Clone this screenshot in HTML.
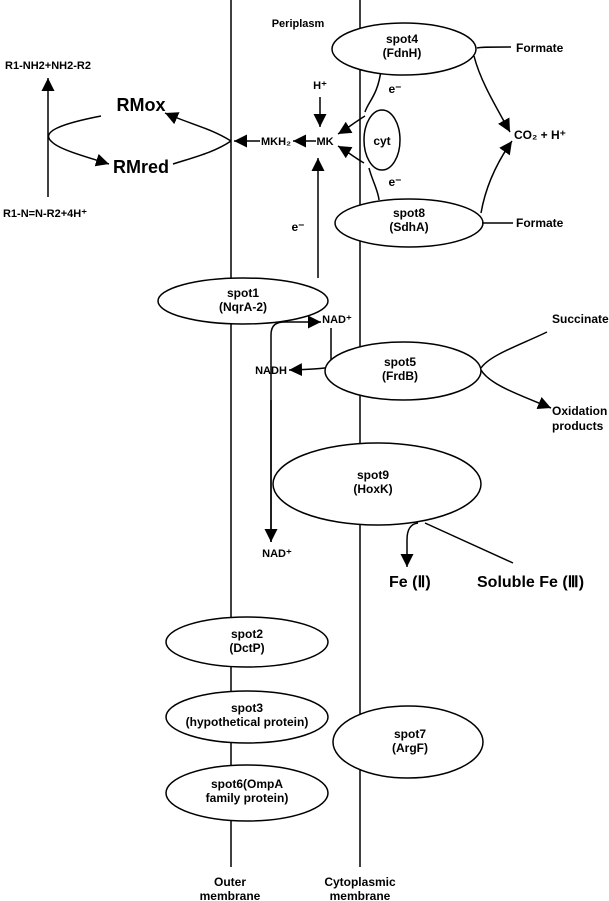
<!DOCTYPE html>
<html><head><meta charset="utf-8"><style>
body{margin:0;background:#fff;}
svg{display:block;}
text{font-family:"Liberation Sans",Arial,sans-serif;font-weight:bold;fill:#000;}
.s{font-size:11px;}
.m{font-size:12px;}
</style></head><body>
<svg width="609" height="901" viewBox="0 0 609 901" xmlns="http://www.w3.org/2000/svg">
<defs>
<marker id="a" viewBox="0 0 10 10" refX="10" refY="5" markerWidth="10" markerHeight="10" markerUnits="userSpaceOnUse" orient="auto"><path d="M0,0L10,5L0,10z" fill="#000"/></marker>
<marker id="b" viewBox="0 0 10 10" refX="10" refY="5" markerWidth="13" markerHeight="13" markerUnits="userSpaceOnUse" orient="auto"><path d="M0,0L10,5L0,10z" fill="#000"/></marker>
</defs>
<g stroke="#000" stroke-width="1.5" fill="none">
<line x1="231" y1="0" x2="231" y2="867"/>
<line x1="360" y1="0" x2="360" y2="867"/>
<!-- left -->
<line x1="48" y1="197" x2="48" y2="78" marker-end="url(#b)"/>
<path d="M101,116 C60,124 40,132 52,142 C60,150 90,158 109,164" marker-end="url(#b)"/>
<path d="M231,141 C210,128 190,124 165,113" marker-end="url(#b)"/>
<path d="M231,141 C215,152 195,157 173,164"/>
<line x1="260" y1="141" x2="234" y2="141" marker-end="url(#b)"/>
<line x1="316" y1="141" x2="293" y2="141" marker-end="url(#b)"/>
<line x1="320" y1="97" x2="320" y2="127" marker-end="url(#b)"/>
<line x1="318" y1="278" x2="318" y2="158" marker-end="url(#b)"/>
<!-- cyt -->
<ellipse cx="382" cy="140" rx="18" ry="30" fill="#fff"/>
<path d="M381,70 C378,95 368,102 365,112"/>
<path d="M369,168 C372,180 378,190 379,200"/>
<path d="M365,116 C355,122 348,128 338,134" marker-end="url(#b)"/>
<path d="M364,163 C355,158 348,152 338,146" marker-end="url(#b)"/>
<!-- spot4 / spot8 -->
<ellipse cx="404" cy="49" rx="72" ry="26" fill="#fff"/>
<ellipse cx="409" cy="223" rx="74" ry="24" fill="#fff"/>
<path d="M477,48 C480,47 490,47 511,47"/>
<path d="M482,223 C488,223 495,223 513,223"/>
<path d="M474,56 C480,80 495,105 510,132" marker-end="url(#b)"/>
<path d="M481,213 C485,190 495,165 512,141" marker-end="url(#b)"/>
<!-- spot1 area -->
<ellipse cx="243" cy="301" rx="85" ry="23" fill="#fff"/>
<path d="M271,542 L271,335 C271,325 276,322 285,322 L321,322" marker-end="url(#b)"/>
<line x1="271" y1="400" x2="271" y2="542" marker-end="url(#b)"/>
<path d="M331,328 L331,364 C331,368 325,369 289,370" marker-end="url(#b)"/>
<!-- spot5 -->
<ellipse cx="403" cy="371" rx="78" ry="29" fill="#fff"/>
<path d="M547,332 C520,345 490,355 481,368"/>
<path d="M481,370 C490,385 520,395 551,408" marker-end="url(#b)"/>
<!-- spot9 -->
<ellipse cx="377" cy="484" rx="104" ry="41" fill="#fff"/>
<path d="M418,523 C410,524 407,530 407,540 L407,567" marker-end="url(#b)"/>
<line x1="425" y1="523" x2="513" y2="563"/>
<!-- bottom -->
<ellipse cx="247" cy="642" rx="81" ry="25" fill="#fff"/>
<ellipse cx="247" cy="717" rx="81" ry="26" fill="#fff"/>
<ellipse cx="247" cy="793" rx="81" ry="28" fill="#fff"/>
<ellipse cx="408" cy="742" rx="75" ry="36" fill="#fff"/>
</g>
<g text-anchor="middle" class="m">
<text x="48" y="69" class="s">R1-NH2+NH2-R2</text>
<text x="45" y="217" class="s">R1-N=N-R2+4H⁺</text>
<text x="141" y="111" style="font-size:18px">RMox</text>
<text x="141" y="173" style="font-size:18px">RMred</text>
<text x="298" y="27" class="s">Periplasm</text>
<text x="402" y="43">spot4</text><text x="402" y="57">(FdnH)</text>
<text x="409" y="217">spot8</text><text x="409" y="231">(SdhA)</text>
<text x="382" y="145">cyt</text>
<text x="395" y="93">e⁻</text>
<text x="395" y="186">e⁻</text>
<text x="298" y="231">e⁻</text>
<text x="320" y="89" class="s">H⁺</text>
<text x="325" y="145" class="s">MK</text>
<text x="276" y="145" class="s">MKH₂</text>
<text x="243" y="297">spot1</text><text x="243" y="311">(NqrA-2)</text>
<text x="337" y="323" class="s">NAD⁺</text>
<text x="271" y="374" class="s">NADH</text>
<text x="277" y="557" class="s">NAD⁺</text>
<text x="400" y="366">spot5</text><text x="400" y="380">(FrdB)</text>
<text x="373" y="479">spot9</text><text x="373" y="493">(HoxK)</text>
<text x="247" y="638">spot2</text><text x="247" y="652">(DctP)</text>
<text x="247" y="712">spot3</text><text x="247" y="726">(hypothetical protein)</text>
<text x="247" y="788">spot6(OmpA</text><text x="247" y="802">family protein)</text>
<text x="410" y="738">spot7</text><text x="410" y="752">(ArgF)</text>
<text x="230" y="886">Outer</text><text x="230" y="900">membrane</text>
<text x="360" y="886">Cytoplasmic</text><text x="360" y="900">membrane</text>
</g>
<g class="m">
<text x="516" y="52">Formate</text>
<text x="516" y="227">Formate</text>
<text x="514" y="139">CO₂ + H⁺</text>
<text x="552" y="323">Succinate</text>
<text x="552" y="415">Oxidation</text>
<text x="552" y="430">products</text>
<text x="389" y="587" style="font-size:16px">Fe (Ⅱ)</text>
<text x="477" y="587" style="font-size:16px">Soluble Fe (Ⅲ)</text>
</g>
</svg>
</body></html>
